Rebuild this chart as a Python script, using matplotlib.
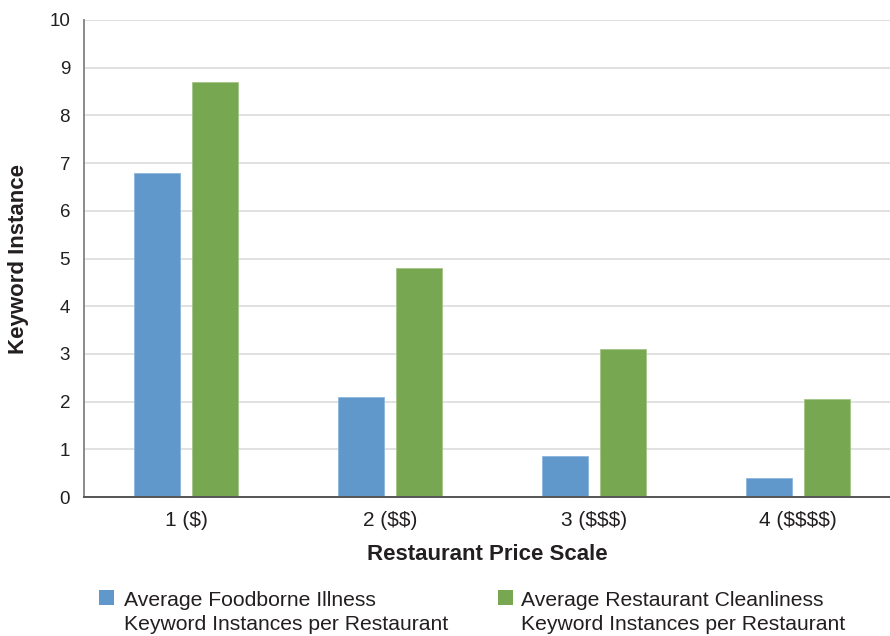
import matplotlib
matplotlib.use("Agg")
import matplotlib.pyplot as plt
from matplotlib.patches import Rectangle
import numpy as np

plt.rcParams['font.family'] = ['Liberation Sans', 'DejaVu Sans']
plt.rcParams['text.parse_math'] = False

categories = ["1 ($)", "2 ($$)", "3 ($$$)", "4 ($$$$)"]
foodborne = [6.8, 2.1, 0.85, 0.4]
cleanliness = [8.7, 4.8, 3.1, 2.05]
series_names = ["Average Foodborne Illness\nKeyword Instances per Restaurant",
                "Average Restaurant Cleanliness\nKeyword Instances per Restaurant"]
colors = ["#6198CB", "#78A752"]
yticks = [0, 1, 2, 3, 4, 5, 6, 7, 8, 9, 10]

W, H = 890, 636
fig = plt.figure(figsize=(W / 100, H / 100), dpi=100)
ax = fig.add_axes([84 / W, 1 - 497 / H, (W - 84) / W, (497 - 20) / H])

x = np.arange(len(categories))
bw = 0.225
off = 0.143
ax.bar(x - off, foodborne, width=bw, color=colors[0], edgecolor="#8DB5DC", linewidth=0.6, zorder=3)
ax.bar(x + off, cleanliness, width=bw, color=colors[1], edgecolor="#A2C486", linewidth=0.6, zorder=3)

ax.set_xlim(-0.5, -0.5 + (W - 84) / 204)
ax.set_ylim(0, 10)
ax.set_yticks(yticks)
ax.set_yticklabels([str(v) for v in yticks], fontsize=13.5, color="#231F20")
ax.set_xticks(x)
ax.set_xticklabels(categories, fontsize=15, color="#231F20")
ax.tick_params(axis="y", length=0, pad=10)
ax.tick_params(axis="x", length=0, pad=10)

ax.yaxis.grid(True, color="#D9D9D9", linewidth=1.1, zorder=0)
ax.set_axisbelow(True)
for s in ["top", "right"]:
    ax.spines[s].set_visible(False)
ax.spines["left"].set_color("#8A8A8A")
ax.spines["left"].set_linewidth(1.4)
ax.spines["bottom"].set_color("#555555")
ax.spines["bottom"].set_linewidth(1.4)
ax.spines["left"].set_zorder(4)
ax.spines["bottom"].set_zorder(4)

ax.set_xlabel("Restaurant Price Scale", fontsize=16, fontweight="bold", color="#231F20")
ax.xaxis.label.set_verticalalignment("center")
ax.xaxis.set_label_coords(0.5, -(555 - 497) / (497 - 20))
ax.set_ylabel("Keyword Instance", fontsize=16, fontweight="bold", color="#231F20")
ax.yaxis.set_label_coords(-(84 - 29) / (W - 84), 0.5)

# legend (manual, marker aligned to first line)
marker_x = [99, 498]
text_x = [124, 521]
baselines = [606, 630]
for i in range(2):
    fig.add_artist(Rectangle((marker_x[i] / W, 1 - 605 / H), 15 / W, 15 / H,
                             transform=fig.transFigure, facecolor=colors[i], edgecolor="none"))
    for j, line in enumerate(series_names[i].split("\n")):
        fig.text(text_x[i] / W, 1 - baselines[j] / H, line, fontsize=15.2, color="#231F20",
                 ha="left", va="baseline")

fig.savefig("out.png", dpi=100)
